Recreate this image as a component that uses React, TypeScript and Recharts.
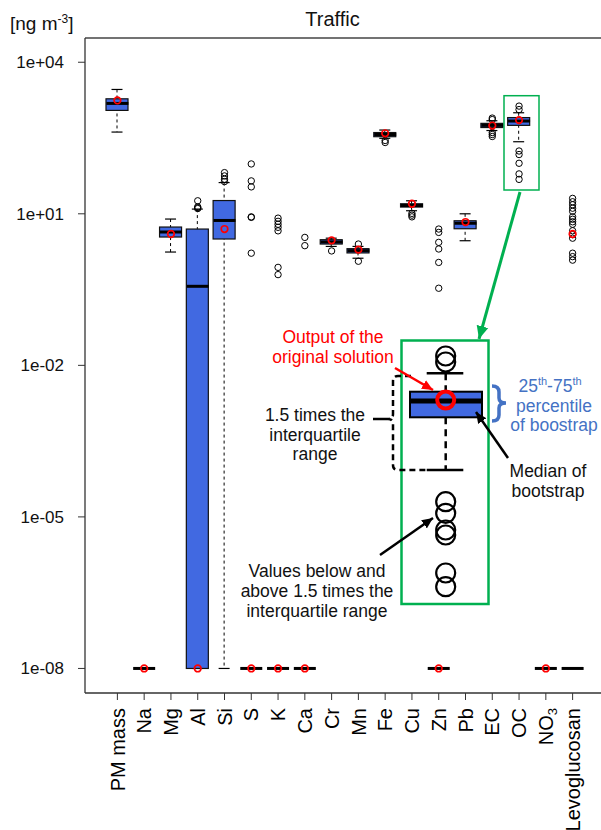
import React from 'react';
import { ComposedChart, Bar, Scatter, XAxis, YAxis, ReferenceLine } from 'recharts';

const FONT = '"Liberation Sans", Arial, Helvetica, sans-serif';
const BOX_BLUE = '#4169E1';
const GREEN = '#00B050';
const NOTE_BLUE = '#4472C4';

// values in ng m-3, 1e-8 is the floor used for "zero"
const F = 1e-8;

const categories = ['PM mass', 'Na', 'Mg', 'Al', 'Si', 'S', 'K', 'Ca', 'Cr', 'Mn', 'Fe', 'Cu', 'Zn', 'Pb', 'EC', 'OC', 'NO3', 'Levoglucosan'];
const whiskerLow = [415, F, 1.75, F, F, F, F, F, 2.26, 1.32, 312, 11.5, F, 2.93, 445, 267, F, F];
const q1 = [1114, F, 3.47, F, 3.17, F, F, F, 2.52, 1.68, 336, 13.6, F, 5.06, 510, 563, F, F];
const median = [1531, F, 4.36, 0.367, 7.38, F, F, F, 2.77, 1.86, 371, 14.6, F, 6.5, 563, 686, F, F];
const q3 = [1889, F, 5.47, 4.99, 18.3, F, F, F, 3.07, 2.04, 406, 15.8, F, 7.28, 617, 803, F, F];
const whiskerHigh = [2893, F, 7.87, 12.4, 41.5, F, F, F, 3.29, 2.26, 455, 18.1, F, 10.0, 695, 1000, F, F];
const original = [1754, F, 3.98, F, 4.99, F, F, F, 2.98, 1.95, 392, 15.8, F, 6.87, 558, 716, F, 3.98];
const outliers = [
  [],
  [],
  [],
  [18.1, 13.7, 13.2, 12.7],
  [65.3, 56.2, 48.4, 43.4],
  [97, 44.8, 34.1, 8.7, 8.5, 1.66],
  [8.2, 7.1, 6.2, 5.4, 4.6, 0.87, 0.625],
  [3.41, 2.34],
  [1.84],
  [2.52, 1.15],
  [283, 258],
  [10.2, 9.4, 8.7],
  [4.99, 4.28, 2.72, 2.01, 1.09, 0.336],
  [],
  [785, 733, 406, 371, 339],
  [1355, 1156, 175, 149, 100, 61.6, 48],
  [],
  [20.2, 17.3, 15.1, 12.9, 11.2, 8.73, 7.8, 6.95, 6.21, 4.62, 3.86, 3.29, 1.66, 1.42, 1.21],
];

const yTicks = [1e-8, 1e-5, 1e-2, 1e1, 1e4];
const yMin = Math.pow(10, -8.486);
const yMax = Math.pow(10, 4.48);

const maxOut = Math.max(...outliers.map((o) => o.length));
const outKeys = Array.from({ length: maxOut }, (_, j) => 'o' + j);

const chartData = categories.map((name, i) => {
  const row: any = {
    name,
    whisker: [whiskerLow[i], whiskerHigh[i]],
    box: [q1[i], q3[i]],
    median: median[i],
    orig: original[i],
  };
  outliers[i].forEach((v, j) => {
    row['o' + j] = v;
  });
  return row;
});

const fmtTick = (v: number) => {
  const e = Math.round(Math.log10(v));
  return '1e' + (e < 0 ? '-' : '+') + String(Math.abs(e)).padStart(2, '0');
};

const ok = (...vals: any[]) => vals.every((v) => typeof v === 'number' && Number.isFinite(v));

const WhiskerShape = (props: any) => {
  const { x, y, width, height } = props;
  if (!ok(x, y, width, height)) return <g />;
  const top = Math.min(y, y + height);
  const bottom = Math.max(y, y + height);
  const cx = x + width / 2;
  const half = width / 4;
  return (
    <g>
      <line x1={cx} x2={cx} y1={top} y2={bottom} stroke="#000" strokeWidth={1} strokeDasharray="3 3" />
      <line x1={cx - half} x2={cx + half} y1={top} y2={top} stroke="#000" strokeWidth={1.2} />
      <line x1={cx - half} x2={cx + half} y1={bottom} y2={bottom} stroke="#000" strokeWidth={1.2} />
    </g>
  );
};

const BoxShape = (props: any) => {
  const { x, y, width, height } = props;
  if (!ok(x, y, width, height)) return <g />;
  const top = Math.min(y, y + height);
  return <rect x={x} y={top} width={width} height={Math.abs(height)} fill={BOX_BLUE} stroke="#111" strokeWidth={1.2} />;
};

const MedianShape = (props: any) => {
  const { cx, cy } = props;
  if (!ok(cx, cy)) return <g />;
  return <line x1={cx - 11} x2={cx + 11} y1={cy} y2={cy} stroke="#000" strokeWidth={3} />;
};

const OutlierShape = (props: any) => {
  const { cx, cy } = props;
  if (!ok(cx, cy)) return <g />;
  return <circle cx={cx} cy={cy} r={3.2} fill="none" stroke="#000" strokeWidth={1} />;
};

const OrigShape = (props: any) => {
  const { cx, cy } = props;
  if (!ok(cx, cy)) return <g />;
  return <circle cx={cx} cy={cy} r={3.3} fill="none" stroke="#FF0000" strokeWidth={1.7} />;
};

const XTick = (props: any) => {
  const { x, y, payload } = props;
  const label = payload.value;
  return (
    <text
      transform={`translate(${x},${y}) rotate(-90)`}
      textAnchor="end"
      dy="0.36em"
      fontSize={20}
      fill="#000"
      fontFamily={FONT}
    >
      {label === 'NO3' ? (
        <>
          NO<tspan fontSize={13} dy="0.3em">3</tspan>
        </>
      ) : (
        label
      )}
    </text>
  );
};

const Annotations = () => (
  <svg width={601} height={830} style={{ position: 'absolute', left: 0, top: 0, pointerEvents: 'none' }}>
    <defs>
      <marker id="ahGreen" markerUnits="userSpaceOnUse" markerWidth={14} markerHeight={14} refX={13} refY={7} orient="auto">
        <path d="M0,1 L13,7 L0,13 z" fill={GREEN} />
      </marker>
      <marker id="ahBlack" markerUnits="userSpaceOnUse" markerWidth={12} markerHeight={12} refX={11} refY={6} orient="auto">
        <path d="M0,1 L11,6 L0,11 z" fill="#000" />
      </marker>
      <marker id="ahRed" markerUnits="userSpaceOnUse" markerWidth={12} markerHeight={12} refX={11} refY={6} orient="auto">
        <path d="M0,1 L11,6 L0,11 z" fill="#FF0000" />
      </marker>
    </defs>

    <g fontFamily={FONT}>
      <text x={10} y={29.5} fontSize={19} fill="#111">
        [ng m<tspan fontSize={12} dy={-7}>-3</tspan><tspan dy={7}>]</tspan>
      </text>
      <text x={332.5} y={26} fontSize={20} textAnchor="middle" fill="#111">Traffic</text>
    </g>

    {/* small highlight box around OC and the pointer to the inset */}
    <rect x={504} y={95.7} width={35} height={94.3} fill="none" stroke={GREEN} strokeWidth={1.5} />
    <line x1={520} y1={192} x2={479} y2={339} stroke={GREEN} strokeWidth={3} markerEnd="url(#ahGreen)" />

    {/* inset */}
    <rect x={401.5} y={340.5} width={87} height={263.5} fill="none" stroke={GREEN} strokeWidth={2.5} />
    <g fill="none" stroke="#000" strokeWidth={2.2}>
      <circle cx={445.7} cy={356} r={9.5} />
      <circle cx={445.7} cy={362} r={9.5} />
      <circle cx={445.7} cy={501.7} r={9.5} />
      <circle cx={445.7} cy={513.3} r={9.5} />
      <circle cx={445.7} cy={530} r={9.5} />
      <circle cx={445.7} cy={535} r={9.5} />
      <circle cx={445.7} cy={573} r={9.5} />
      <circle cx={445.7} cy={586.7} r={9.5} />
    </g>
    <line x1={426.7} x2={463.3} y1={373.3} y2={373.3} stroke="#000" strokeWidth={2.5} />
    <line x1={445.7} x2={445.7} y1={373.3} y2={391.7} stroke="#000" strokeWidth={2.5} strokeDasharray="7 5" />
    <line x1={445.7} x2={445.7} y1={417.3} y2={470} stroke="#000" strokeWidth={2.5} strokeDasharray="7 5" />
    <line x1={426.7} x2={463.3} y1={470} y2={470} stroke="#000" strokeWidth={2.5} />
    <rect x={410} y={391.7} width={72} height={25.6} fill={BOX_BLUE} stroke="#000" strokeWidth={2} />
    <line x1={410} x2={482} y1={401} y2={401} stroke="#000" strokeWidth={5} />
    <circle cx={445.7} cy={400} r={8.5} fill="none" stroke="#FF0000" strokeWidth={4} />

    {/* brackets and arrows */}
    <path
      d="M 411 376 L 398 376 Q 393 376 393 381 L 393 414 Q 393 419 388 419 Q 393 419 393 424 L 393 465 Q 393 470 398 470 L 426 470"
      fill="none"
      stroke="#000"
      strokeWidth={2.5}
      strokeDasharray="6 4"
    />
    <line x1={373} y1={419} x2={388} y2={419} stroke="#000" strokeWidth={2.5} />
    <path
      d="M 492 386 Q 499 386 499 392 L 499 398 Q 499 403 506 403 Q 499 403 499 408 L 499 415 Q 499 421 492 421"
      fill="none"
      stroke={NOTE_BLUE}
      strokeWidth={3.5}
    />
    <line x1={395} y1={368} x2={433} y2={390} stroke="#FF0000" strokeWidth={2.5} markerEnd="url(#ahRed)" />
    <line x1={508} y1={458} x2={476} y2={412} stroke="#000" strokeWidth={2.5} markerEnd="url(#ahBlack)" />
    <line x1={380} y1={555} x2={433} y2={518} stroke="#000" strokeWidth={2.5} markerEnd="url(#ahBlack)" />

    <g fontFamily={FONT} fontSize={17.5} textAnchor="middle">
      <text x={333} y={343} fill="#FF0000">Output of the</text>
      <text x={333} y={363} fill="#FF0000">original solution</text>
      <text x={315} y={421} fill="#111">1.5 times the</text>
      <text x={315} y={440.5} fill="#111">interquartile</text>
      <text x={315} y={460} fill="#111">range</text>
      <text x={317} y={577} fill="#111">Values below and</text>
      <text x={317} y={597} fill="#111">above 1.5 times the</text>
      <text x={317} y={617} fill="#111">interquartile range</text>
      <text x={550} y={391.5} fill={NOTE_BLUE}>
        25<tspan fontSize={11} dy={-7}>th</tspan><tspan dy={7}>-75</tspan><tspan fontSize={11} dy={-7}>th</tspan>
      </text>
      <text x={554} y={411.5} fill={NOTE_BLUE}>percentile</text>
      <text x={554} y={430.5} fill={NOTE_BLUE}>of boostrap</text>
      <text x={548} y={476.5} fill="#111">Median of</text>
      <text x={548} y={496.5} fill="#111">bootstrap</text>
    </g>
  </svg>
);

export default function App() {
  return (
    <div style={{ position: 'absolute', left: 0, top: 0, width: 601, height: 830, background: '#fff', overflow: 'hidden' }}>
      <ComposedChart
        width={601}
        height={830}
        data={chartData}
        margin={{ top: 38, right: 0, bottom: 0, left: 0 }}
        barGap={-22}
      >
        <XAxis
          dataKey="name"
          type="category"
          interval={0}
          height={137}
          padding={{ left: 19, right: 15 }}
          tickSize={7}
          tickMargin={8}
          tick={(p: any) => <XTick {...p} />}
          axisLine={{ stroke: '#333', strokeWidth: 1.3 }}
          tickLine={{ stroke: '#333' }}
        />
        <YAxis
          type="number"
          scale="log"
          domain={[yMin, yMax]}
          allowDataOverflow
          ticks={yTicks}
          tickFormatter={fmtTick}
          width={85}
          tickSize={7}
          tickMargin={14}
          tick={{ fontSize: 17, fill: '#111', fontFamily: FONT }}
          axisLine={{ stroke: '#333', strokeWidth: 1.3 }}
          tickLine={{ stroke: '#333' }}
        />
        <ReferenceLine y={yMax} stroke="#444" strokeWidth={1.3} />
        <Bar dataKey="whisker" barSize={22} shape={WhiskerShape} isAnimationActive={false} />
        <Bar dataKey="box" barSize={22} shape={BoxShape} isAnimationActive={false} />
        <Scatter dataKey="median" shape={MedianShape} isAnimationActive={false} />
        {outKeys.map((k) => (
          <Scatter key={k} dataKey={k} shape={OutlierShape} isAnimationActive={false} />
        ))}
        <Scatter dataKey="orig" shape={OrigShape} isAnimationActive={false} />
      </ComposedChart>
      <Annotations />
    </div>
  );
}
